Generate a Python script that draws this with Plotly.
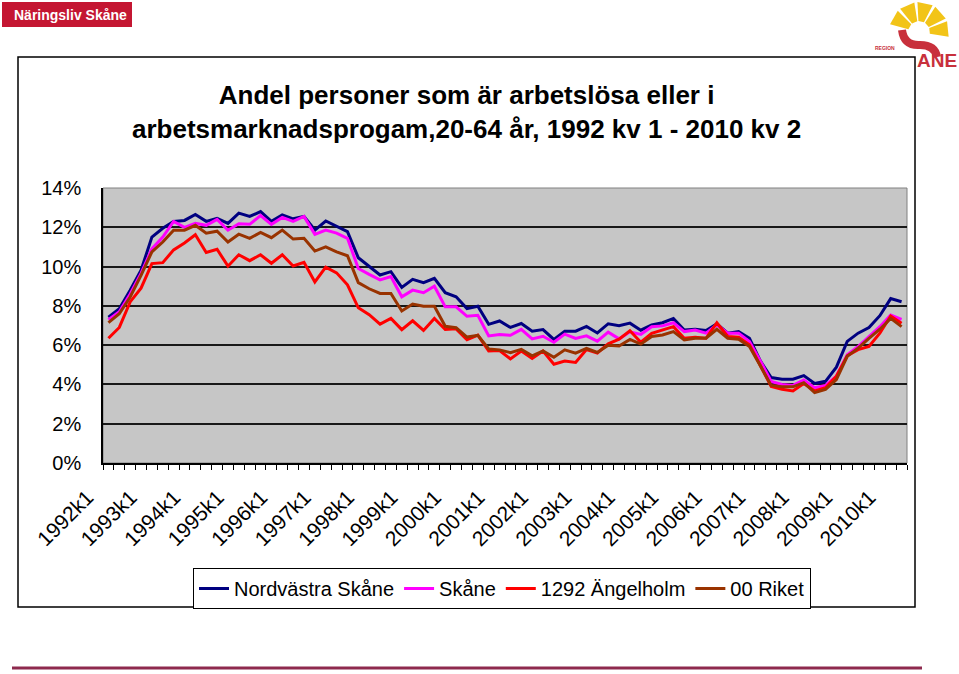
import math
import plotly.graph_objects as go

# ---------------- data ----------------
quarters = [f"{yr}k{q}" for yr in range(1992, 2011) for q in range(1, 5)][:74]

nordvastra_skane = [
    7.42, 7.85, 8.79, 9.81, 11.5, 11.95, 12.3, 12.35, 12.65, 12.3, 12.45, 12.2,
    12.72, 12.55, 12.8, 12.3, 12.63, 12.43, 12.55, 11.86, 12.32, 12.03, 11.78, 10.45,
    10.0, 9.57, 9.74, 8.94, 9.35, 9.18, 9.4, 8.67, 8.46, 7.86, 7.98, 7.06,
    7.23, 6.9, 7.1, 6.71, 6.79, 6.29, 6.71, 6.71, 6.95, 6.62, 7.09, 6.99,
    7.12, 6.76, 7.03, 7.14, 7.36, 6.77, 6.81, 6.74, 7.08, 6.61, 6.69, 6.35,
    5.2, 4.35, 4.27, 4.27, 4.45, 4.05, 4.16, 4.88, 6.19, 6.61, 6.9, 7.5,
    8.37, 8.21,
]
skane = [
    7.3, 7.7, 8.6, 9.65, 10.9, 11.5, 12.3, 12.0, 12.2, 12.1, 12.4, 11.85,
    12.18, 12.15, 12.6, 12.15, 12.5, 12.3, 12.55, 11.64, 11.86, 11.7, 11.44, 9.9,
    9.6, 9.32, 9.49, 8.46, 8.8, 8.67, 9.0, 7.95, 7.95, 7.47, 7.52, 6.47,
    6.54, 6.5, 6.8, 6.32, 6.45, 6.15, 6.56, 6.34, 6.47, 6.2, 6.66, 6.32,
    6.68, 6.55, 6.94, 6.98, 7.14, 6.69, 6.77, 6.61, 7.03, 6.61, 6.61, 6.19,
    5.2, 4.15, 4.0, 3.95, 4.22, 3.83, 3.95, 4.42, 5.51, 5.93, 6.44, 6.94,
    7.53, 7.31,
]
angelholm_1292 = [
    6.35, 6.9, 8.2, 8.9, 10.15, 10.2, 10.85, 11.2, 11.62, 10.72, 10.88, 10.02,
    10.6, 10.3, 10.6, 10.17, 10.6, 10.03, 10.22, 9.22, 9.97, 9.68, 9.07, 7.9,
    7.55, 7.07, 7.36, 6.79, 7.24, 6.75, 7.36, 6.8, 6.83, 6.27, 6.51, 5.7,
    5.73, 5.3, 5.7, 5.32, 5.7, 5.03, 5.19, 5.12, 5.78, 5.6, 6.07, 6.3,
    6.73, 6.15, 6.6, 6.77, 6.94, 6.35, 6.4, 6.35, 7.14, 6.44, 6.4, 6.02,
    4.95, 3.9, 3.75, 3.67, 4.05, 3.67, 3.83, 4.42, 5.46, 5.77, 5.93, 6.61,
    7.48, 7.11,
]
riket = [
    7.15, 7.6, 8.45, 9.55, 10.75, 11.25, 11.85, 11.85, 12.1, 11.7, 11.8, 11.25,
    11.65, 11.44, 11.74, 11.47, 11.86, 11.4, 11.44, 10.79, 11.0, 10.75, 10.55, 9.18,
    8.87, 8.63, 8.63, 7.74, 8.09, 7.98, 7.98, 6.96, 6.89, 6.41, 6.5, 5.81,
    5.76, 5.62, 5.79, 5.46, 5.71, 5.38, 5.76, 5.59, 5.83, 5.63, 5.99, 5.96,
    6.29, 6.05, 6.44, 6.52, 6.69, 6.27, 6.35, 6.35, 6.81, 6.35, 6.3, 5.93,
    4.95, 3.95, 3.88, 3.88, 4.09, 3.58, 3.75, 4.25, 5.43, 5.85, 6.35, 6.81,
    7.36, 6.94,
]
series_names = ["Nordvästra Skåne", "Skåne", "1292 Ängelholm", "00 Riket"]
series_colors = ["#000080", "#FF00FF", "#FF0000", "#993300"]
y_tick_values = [0, 2, 4, 6, 8, 10, 12, 14]
y_tick_labels = [f"{v}%" for v in y_tick_values]
title_lines = ["Andel personer som är arbetslösa eller i",
               "arbetsmarknadsprogam,20-64 år, 1992 kv 1 - 2010 kv 2"]

# ---------------- geometry helpers (pixel -> paper) ----------------
W, H = 959, 674
L, R, T, B = 103, 907, 188, 463


def px(x):
    return (x - L) / (R - L)


def py(y):
    return (B - y) / (B - T)


FONT = "Liberation Sans, Arial, sans-serif"
NARROW = "Liberation Sans Narrow, Arial Narrow, Liberation Sans, sans-serif"

fig = go.Figure()
xs = list(range(len(quarters)))
for name, vals, col in zip(series_names,
                           [nordvastra_skane, skane, angelholm_1292, riket],
                           series_colors):
    fig.add_trace(go.Scatter(x=xs, y=vals, name=name, mode="lines",
                             line=dict(color=col, width=3),
                             hovertemplate="%{text}: %{y:.1f}%<extra>" + name + "</extra>",
                             text=quarters))

label_idx = [i for i, q in enumerate(quarters) if q.endswith("k1")]

shapes = []
# --- Region Skåne logo (approximate) ---
cx, cy = 919, 32
for k in range(5):
    a0 = math.radians(165 - k * 36)
    a1 = math.radians(165 - k * 36 - 30)
    r0, r1 = 11, 30
    pts = [(cx + r0 * math.cos(a0), cy - r0 * math.sin(a0)),
           (cx + r1 * math.cos(a0), cy - r1 * math.sin(a0)),
           (cx + r1 * math.cos(a1), cy - r1 * math.sin(a1)),
           (cx + r0 * math.cos(a1), cy - r0 * math.sin(a1))]
    path = "M " + " L ".join(f"{px(a):.4f},{py(b):.4f}" for a, b in pts) + " Z"
    shapes.append(dict(type="path", xref="paper", yref="paper", path=path,
                       fillcolor="#F2C418", line=dict(width=0), layer="below"))
red_pts = [(902, 30), (904, 46), (920, 45), (935, 45), (937, 57)]
path = (f"M {px(red_pts[0][0]):.4f},{py(red_pts[0][1]):.4f} "
        f"Q {px(red_pts[1][0]):.4f},{py(red_pts[1][1]):.4f} {px(red_pts[2][0]):.4f},{py(red_pts[2][1]):.4f} "
        f"Q {px(red_pts[3][0]):.4f},{py(red_pts[3][1]):.4f} {px(red_pts[4][0]):.4f},{py(red_pts[4][1]):.4f}")
shapes.append(dict(type="path", xref="paper", yref="paper", path=path,
                   line=dict(color="#C8303C", width=8), layer="below"))
# --- chart frame (white box) ---
shapes.append(dict(type="rect", xref="paper", yref="paper",
                   x0=px(18), x1=px(915), y0=py(607), y1=py(57),
                   fillcolor="white", line=dict(color="black", width=1.5),
                   layer="below"))
# --- plot area background ---
shapes.append(dict(type="rect", xref="paper", yref="paper", x0=0, x1=1, y0=0, y1=1,
                   fillcolor="#C6C6C6", line=dict(color="#808080", width=1),
                   layer="below"))
# --- Näringsliv Skåne badge ---
shapes.append(dict(type="rect", xref="paper", yref="paper",
                   x0=px(2), x1=px(132), y0=py(27), y1=py(2),
                   fillcolor="#C41632", line=dict(width=0), layer="below"))
# --- bottom maroon rule ---
shapes.append(dict(type="line", xref="paper", yref="paper",
                   x0=px(12), x1=px(922), y0=py(668), y1=py(668),
                   line=dict(color="#8E2A4E", width=3)))

annotations = [
    dict(text="<b>" + title_lines[0] + "<br>" + title_lines[1] + "</b>",
         xref="paper", yref="paper", x=px(466), y=py(112), xanchor="center",
         yanchor="middle", showarrow=False, font=dict(size=26, color="black", family=FONT)),
    dict(text="<b>Näringsliv Skåne</b>", xref="paper", yref="paper",
         x=px(70), y=py(14.5), xanchor="center", yanchor="middle", showarrow=False,
         font=dict(size=14, color="white", family=NARROW)),
    dict(text="<b>ANE</b>", xref="paper", yref="paper", x=px(915), y=py(61),
         xanchor="left", yanchor="middle", showarrow=False,
         font=dict(size=19, color="#C8303C", family=NARROW)),
    dict(text="<b>REGION</b>", xref="paper", yref="paper", x=px(885), y=py(48),
         xanchor="center", yanchor="middle", showarrow=False,
         font=dict(size=5, color="#C8303C", family=FONT)),
]

fig.update_layout(
    width=W, height=H, autosize=False,
    margin=dict(l=L, r=W - R, t=T, b=H - B, pad=0),
    paper_bgcolor="white", plot_bgcolor="rgba(0,0,0,0)",
    font=dict(family=FONT, color="black"),
    showlegend=True,
    legend=dict(orientation="h", x=px(502), xanchor="center", y=py(568), yanchor="top",
                bgcolor="white", bordercolor="black", borderwidth=1,
                font=dict(size=20, family=FONT), itemwidth=30,
                tracegroupgap=0),
    shapes=shapes,
    annotations=annotations,
    xaxis=dict(range=[-0.5, len(quarters) - 0.5], tickmode="array",
               tickvals=label_idx, ticktext=[quarters[i] for i in label_idx],
               tickangle=-45, tickfont=dict(size=21), ticks="", showgrid=False,
               showline=True, linecolor="black", linewidth=1.5, zeroline=False,
               minor=dict(tickmode="linear", tick0=-0.5, dtick=1, ticks="outside",
                          ticklen=5, tickcolor="black", tickwidth=1, showgrid=False),
               ticklabelstandoff=12, ticklabelshift=-21),
    yaxis=dict(range=[0, 14], tickmode="array", tickvals=y_tick_values,
               ticktext=y_tick_labels, tickfont=dict(size=20), showgrid=True,
               gridcolor="#181818", gridwidth=1.5, showline=True, linecolor="black",
               linewidth=1.5, zeroline=False, ticks="", ticklabelstandoff=16),
)

fig.write_html("out.html", config={"displayModeBar": False},
               post_script="document.body.style.margin='0px';")
